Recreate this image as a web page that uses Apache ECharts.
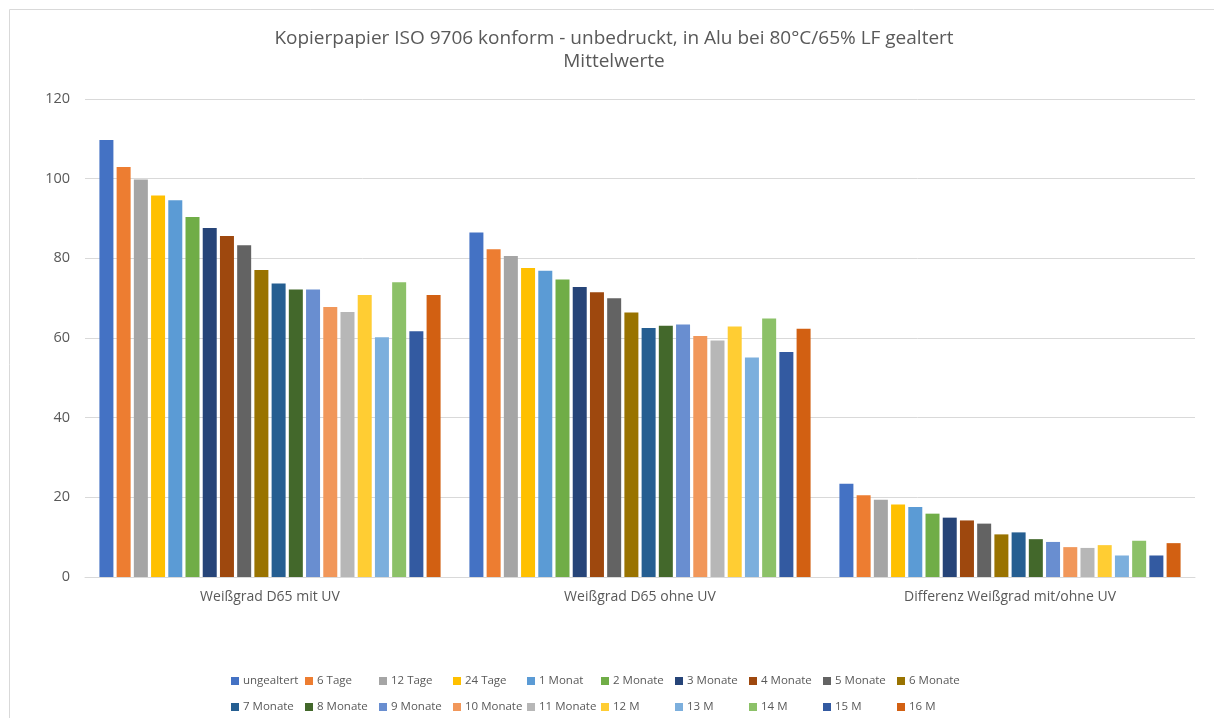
<!DOCTYPE html>
<html>
<head>
<meta charset="utf-8">
<title>Kopierpapier ISO 9706</title>
<script src="https://cdn.jsdelivr.net/npm/echarts@6/dist/echarts.min.js"></script>
<style>
	html, body { margin: 0; padding: 0; background: #fff; }
	#chart { width: 1214px; height: 718px; }
</style>
</head>
<body>
<div id="chart"></div>
<script>
	// categories on the x axis
	const categories = ['Weißgrad D65 mit UV', 'Weißgrad D65 ohne UV', 'Differenz Weißgrad mit/ohne UV']
	// series names (legend)
	const seriesNames = ['ungealtert', '6 Tage', '12 Tage', '24 Tage', '1 Monat', '2 Monate', '3 Monate', '4 Monate',
		'5 Monate', '6 Monate', '7 Monate', '8 Monate', '9 Monate', '10 Monate', '11 Monate', '12 M', '13 M', '14 M',
		'15 M', '16 M']
	// values per category, one entry per series
	const mitUV = [109.7, 102.9, 99.8, 95.8, 94.6, 90.4, 87.6, 85.6, 83.3, 77.1, 73.7, 72.2, 72.2, 67.8, 66.5, 70.8,
		60.2, 74.0, 61.7, 70.8]
	const ohneUV = [86.5, 82.3, 80.6, 77.6, 76.9, 74.7, 72.8, 71.5, 70.0, 66.4, 62.5, 63.1, 63.4, 60.5, 59.4, 62.9,
		55.1, 64.9, 56.5, 62.3]
	const differenz = [23.4, 20.5, 19.4, 18.2, 17.6, 15.9, 14.9, 14.2, 13.4, 10.7, 11.2, 9.5, 8.8, 7.5, 7.3, 8.0,
		5.4, 9.1, 5.4, 8.5]
	const yTicks = [0, 20, 40, 60, 80, 100, 120]

	const colors = ['#4472C4', '#ED7D31', '#A5A5A5', '#FFC000', '#5B9BD5', '#70AD47', '#264478', '#9E480E',
		'#636363', '#997300', '#255E91', '#43682B', '#698ED0', '#F1975A', '#B7B7B7', '#FFCD33', '#7CAFDD',
		'#8CC168', '#335AA1', '#D26012']

	const font = '"Open Sans", "Noto Sans", sans-serif'
	const textColor = '#595959'

	let chart = echarts.init(document.getElementById('chart'), null, { renderer: 'canvas' })

	let series = seriesNames.map((name, i) => ({
		name: name,
		type: 'bar',
		barWidth: 14,
		barGap: '23%',
		itemStyle: { color: colors[i] },
		data: [mitUV[i], ohneUV[i], differenz[i]]
	}))

	// Excel-style legend: 10 fixed-width cells per row, one legend per cell
	let legends = seriesNames.map((name, i) => ({
		data: [name],
		left: 231 + (i % 10) * 74,
		top: i < 10 ? 675 : 701,
		padding: 0,
		itemWidth: 8,
		itemHeight: 8,
		icon: 'rect',
		textStyle: {
			fontFamily: font,
			fontSize: 11.5,
			color: textColor,
			padding: [0, 0, 0, -1]
		}
	}))

	let option = {
		animation: false,
		color: colors,
		graphic: [{
			type: 'rect',
			shape: { x: 9.5, y: 9.5, width: 1300, height: 800 },
			style: { fill: 'none', stroke: '#d9d9d9', lineWidth: 1 },
			silent: true
		}],
		title: {
			text: 'Kopierpapier ISO 9706 konform - unbedruckt, in Alu bei 80°C/65% LF gealtert\nMittelwerte',
			left: 609,
			textAlign: 'center',
			top: 22,
			textStyle: {
				fontFamily: font,
				fontSize: 19,
				fontWeight: 'normal',
				color: textColor,
				lineHeight: 23
			}
		},
		legend: legends,
		grid: {
			left: 85,
			right: 19,
			top: 99,
			bottom: 141,
			containLabel: false
		},
		xAxis: {
			type: 'category',
			data: categories,
			axisLine: { lineStyle: { color: '#d9d9d9', width: 1 } },
			axisTick: { show: false },
			axisLabel: {
				fontFamily: font,
				fontSize: 14,
				color: textColor,
				margin: 13
			}
		},
		yAxis: {
			type: 'value',
			min: yTicks[0],
			max: yTicks[yTicks.length - 1],
			interval: 20,
			axisLine: { show: false },
			axisTick: { show: false },
			splitLine: { lineStyle: { color: '#d9d9d9', width: 1 } },
			axisLabel: {
				fontFamily: font,
				fontSize: 14.5,
				color: textColor,
				margin: 15
			}
		},
		series: series
	}

	chart.setOption(option)
</script>
</body>
</html>
